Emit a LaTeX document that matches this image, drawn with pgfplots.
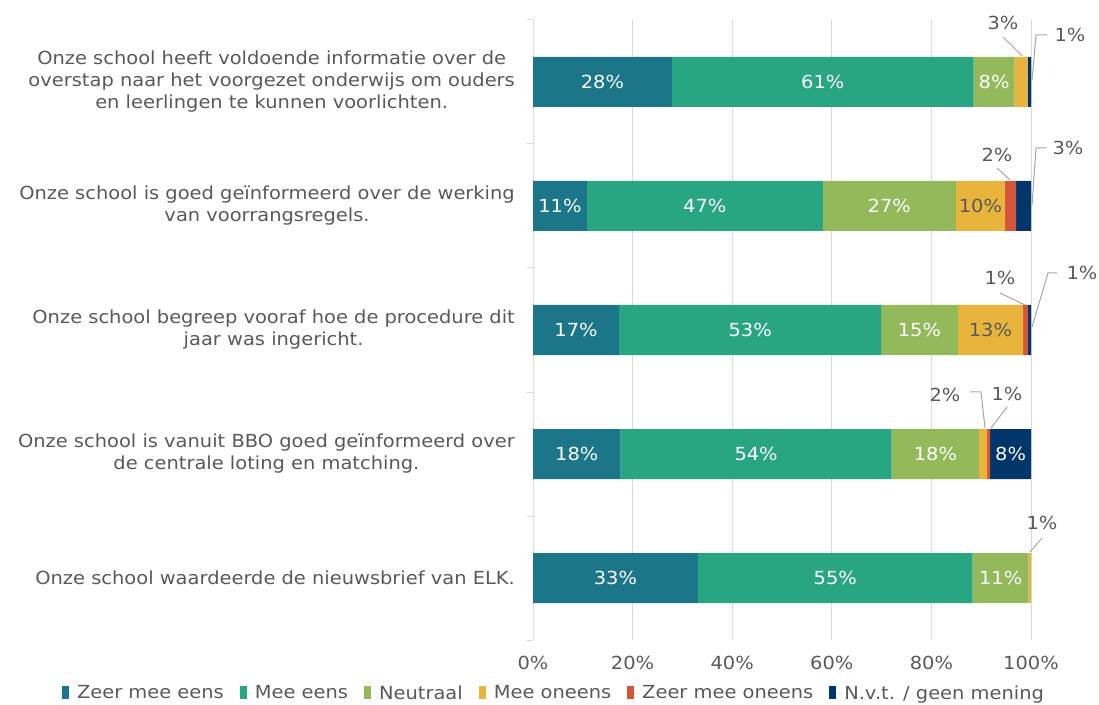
\documentclass[border=0pt]{standalone}
\usepackage{pgfplots}
\pgfplotsset{compat=1.18}
\usepackage{fontspec}
\setmainfont{DejaVu Sans}[FakeStretch=1.08]

\definecolor{zme}{HTML}{1B7689}
\definecolor{me}{HTML}{28A682}
\definecolor{neu}{HTML}{93B95B}
\definecolor{mo}{HTML}{E8B43C}
\definecolor{zmo}{HTML}{D4553A}
\definecolor{nvt}{HTML}{00366A}
\definecolor{txt}{HTML}{595959}
\definecolor{grd}{HTML}{D9D9D9}
\definecolor{lead}{HTML}{A6A6A6}
\newcommand\fs{\fontsize{18}{22}\selectfont}

\begin{document}
\begin{tikzpicture}
\useasboundingbox (0,0) rectangle (1099pt,704pt);
\begin{axis}[
    at={(533pt,64pt)}, anchor=south west,
    scale only axis, width=498pt, height=620pt,
    xbar stacked, bar width=50pt,
    xmin=0, xmax=100, ymin=-0.5, ymax=4.5,
    enlargelimits=false,
    axis y line*=left, axis x line*=bottom,
    x axis line style={draw=none},
    y axis line style={draw=grd, line width=1pt},
    xtick={0,20,...,100},
    xticklabel={\pgfmathprintnumber{\tick}\%},
    /pgf/number format/assume math mode=true,
    xmajorgrids, grid style={grd, line width=1pt},
    x tick style={draw=none},
    ytick={0,1,2,3,4},
    y tick style={draw=none},
    yticklabels={
        {Onze school waardeerde de nieuwsbrief van ELK.},
        {Onze school is vanuit BBO goed geïnformeerd over\\de centrale loting en matching.},
        {Onze school begreep vooraf hoe de procedure dit\\jaar was ingericht.},
        {Onze school is goed geïnformeerd over de werking\\van voorrangsregels.},
        {Onze school heeft voldoende informatie over de\\overstap naar het voorgezet onderwijs om ouders\\en leerlingen te kunnen voorlichten.}
    },
    extra y ticks={-0.5,0.5,1.5,2.5,3.5,4.5},
    extra y tick labels={},
    extra y tick style={tick align=outside, major tick length=6pt,
        y tick style={draw=grd, line width=1pt}},
    tick label style={font=\fs, text=txt},
    yticklabel style={align=center, inner sep=0pt, xshift=-18pt},
    xticklabel style={yshift=-13pt},
    point meta=x,
    visualization depends on={\thisrow{v}\as\rawv},
    nodes near coords={\ifdim\rawv pt<5pt\relax\else\pgfmathprintnumber[fixed,precision=0]{\rawv}\%\fi},
    nodes near coords align={center},
    every node near coord/.append style={anchor=center, font=\fs},
    legend style={at={(0.0422,-0.0855)}, anchor=center, draw=none, fill=none,
        font=\fs, text=txt, inner sep=0pt,
        /tikz/every even column/.append style={column sep=14pt}},
    legend columns=6,
    legend image code/.code={\fill[#1] (0pt,-6pt) rectangle (7pt,7pt);
        \path (0pt,0pt) -- (13pt,0pt);},
]
\addplot[fill=zme, draw=none, every node near coord/.append style={text=white}] table[x=v,y=y] {
y v
4 27.9
3 10.8
2 17.3
1 17.6
0 33.1
};
\addplot[fill=me, draw=none, every node near coord/.append style={text=white}] table[x=v,y=y] {
y v
4 60.6
3 47.4
2 52.6
1 54.4
0 55.2
};
\addplot[fill=neu, draw=none, every node near coord/.append style={text=white}] table[x=v,y=y] {
y v
4 8.2
3 26.7
2 15.4
1 17.6
0 11.2
};
\addplot[fill=mo, draw=none, every node near coord/.append style={text=txt}] table[x=v,y=y] {
y v
4 2.6
3 9.9
2 13.1
1 1.6
0 0.5
};
\addplot[fill=zmo, draw=none, every node near coord/.append style={text=white}] table[x=v,y=y] {
y v
4 0
3 2.2
2 1.0
1 0.6
0 0
};
\addplot[fill=nvt, draw=none, every node near coord/.append style={text=white}] table[x=v,y=y] {
y v
4 0.7
3 3.0
2 0.6
1 8.2
0 0
};
\legend{Zeer mee eens, Mee eens, Neutraal, Mee oneens, Zeer mee oneens, N.v.t. / geen mening}
\end{axis}
% callouts for the small segments
\begin{scope}[every node/.style={font=\fs, text=txt}]
\draw[lead, line width=1pt] (1003pt,667pt) -- (1022pt,648pt);
\node at (1003pt,681pt) {3\%};
\draw[lead, line width=1pt] (1047pt,669pt) -- (1036pt,669pt) -- (1032pt,624pt);
\node at (1070pt,669pt) {1\%};
\draw[lead, line width=1pt] (997pt,536pt) -- (1010pt,524pt);
\node at (997pt,549pt) {2\%};
\draw[lead, line width=1pt] (1046pt,556pt) -- (1036pt,556pt) -- (1032pt,499pt);
\node at (1068pt,556pt) {3\%};
\draw[lead, line width=1pt] (1000pt,411pt) -- (1025pt,399pt);
\node at (1000pt,426pt) {1\%};
\draw[lead, line width=1pt] (1057pt,431pt) -- (1048pt,431pt) -- (1032pt,377pt);
\node at (1082pt,431pt) {1\%};
\draw[lead, line width=1pt] (970pt,312pt) -- (981pt,312pt) -- (985pt,276pt);
\node at (945pt,309pt) {2\%};
\draw[lead, line width=1pt] (1007pt,297pt) -- (991pt,276pt);
\node at (1007pt,310pt) {1\%};
\draw[lead, line width=1pt] (1042pt,166pt) -- (1030pt,152pt);
\node at (1042pt,181pt) {1\%};
\end{scope}
\end{tikzpicture}
\end{document}
